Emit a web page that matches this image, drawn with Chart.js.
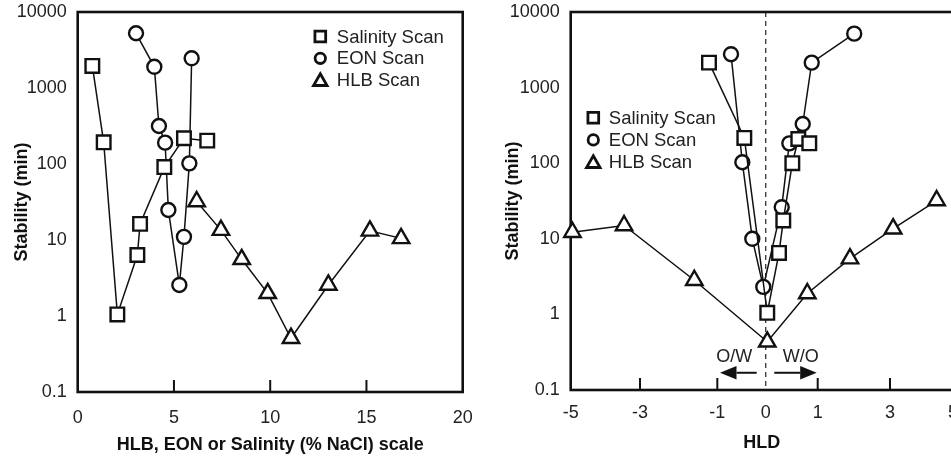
<!DOCTYPE html>
<html>
<head>
<meta charset="utf-8">
<script src="https://cdn.jsdelivr.net/npm/chart.js@4.4.1/dist/chart.umd.min.js"></script>
<style>
  html, body { margin: 0; padding: 0; background: #fff; }
  #wrap { position: relative; width: 951px; height: 456px; overflow: hidden; background: #fff; }
  canvas { position: absolute; top: 0; }
</style>
</head>
<body>
<div id="wrap">
  <canvas id="left" width="480" height="456" style="left:0"></canvas>
  <canvas id="right" width="500" height="456" style="left:480px"></canvas>
</div>
<script>
// axis ticks
const yTicks = [0.1, 1, 10, 100, 1000, 10000];
const yTickLabels = ['0.1', '1', '10', '100', '1000', '10000'];
const scaleTicks = [0, 5, 10, 15, 20];
const hldTicks = [-5, -3, -1, 0, 1, 3, 5];
const seriesNames = ['Salinity Scan', 'EON Scan', 'HLB Scan'];

// left panel: HLB, EON or salinity vs stability (min)
const salScale = [0.76, 1.35, 2.06, 3.10, 3.24, 4.50, 5.52, 6.73];
const salStab = [1950, 193, 1.05, 6.35, 16.3, 91, 218, 203];
const eonScale = [3.03, 3.98, 4.22, 4.54, 4.71, 5.28, 5.52, 5.80, 5.92];
const eonStab = [5250, 1900, 316, 191, 24.8, 2.56, 11.0, 102, 2460];
const hlbScale = [6.18, 7.44, 8.52, 9.87, 11.08, 13.02, 15.18, 16.8];
const hlbStab = [32.1, 13.5, 5.57, 1.99, 0.51, 2.56, 13.2, 10.5];

// right panel: HLD vs stability (min)
const salHLD = [-1.215, -0.442, 0.03, 0.256, 0.338, 0.512, 0.627, 0.838];
const salStabR = [2140, 216, 1.05, 6.5, 17.5, 100, 209, 183];
const eonHLD = [-0.717, -0.483, -0.277, -0.05, 0.308, 0.454, 0.712, 0.885, 2.01];
const eonStabR = [2767, 103, 10, 2.31, 26.2, 183, 330, 2140, 5170];
const hlbHLD = [-4.95, -3.46, -1.595, 0.03, 0.80, 1.893, 3.10, 4.48];
const hlbStabR = [12.2, 15.0, 2.83, 0.434, 1.89, 5.46, 13.6, 32.1];

// the HLD axis of the original is not evenly spaced: value -> fraction of axis
const hldKnots = [[-5, 0], [-3, 0.1813], [-1, 0.3835], [0, 0.5101], [1, 0.6461], [3, 0.8352], [5, 1]];

class WarpScale extends Chart.LinearScale {
  _warp(v) {
    const k = hldKnots;
    let i = 1;
    while (i < k.length - 1 && v > k[i][0]) i++;
    const [v0, f0] = k[i - 1], [v1, f1] = k[i];
    return f0 + (v - v0) / (v1 - v0) * (f1 - f0);
  }
  _unwarp(f) {
    const k = hldKnots;
    let i = 1;
    while (i < k.length - 1 && f > k[i][1]) i++;
    const [v0, f0] = k[i - 1], [v1, f1] = k[i];
    return v0 + (f - f0) / (f1 - f0) * (v1 - v0);
  }
  getPixelForValue(value) {
    if (value === null || value === undefined || isNaN(value)) return NaN;
    return this.getPixelForDecimal(this._warp(+value));
  }
  getValueForPixel(pixel) {
    return this._unwarp(this.getDecimalForPixel(pixel));
  }
}
WarpScale.id = 'warp';
WarpScale.defaults = Chart.LinearScale.defaults;
Chart.register(WarpScale);

const FONT = '"Liberation Sans", Arial, Helvetica, sans-serif';
const INK = '#111';

const markers = [
  { style: 'rect', radius: 9.6, legendRadius: 7.6 },
  { style: 'circle', radius: 7, legendRadius: 5.2 },
  { style: 'triangle', radius: 9.5, legendRadius: 7.8 }
];

function series(xs, ys, i) {
  return {
    label: seriesNames[i],
    data: xs.map((x, k) => ({ x: x, y: ys[k] })),
    borderColor: INK,
    borderWidth: 1.5,
    pointStyle: markers[i].style,
    pointRadius: markers[i].radius,
    pointBorderWidth: 2.4,
    pointBorderColor: INK,
    pointBackgroundColor: '#fff',
    tension: 0,
    fill: false,
    clip: false
  };
}

function drawMarker(ctx, style, r, x, y) {
  ctx.beginPath();
  if (style === 'rect') {
    const s = Math.SQRT1_2 * r;
    ctx.rect(x - s, y - s, 2 * s, 2 * s);
  } else if (style === 'circle') {
    ctx.arc(x, y, r, 0, Math.PI * 2);
  } else {
    for (let j = 0; j < 3; j++) {
      const a = j * 2 * Math.PI / 3;
      const px = x + Math.sin(a) * r, py = y - Math.cos(a) * r;
      j ? ctx.lineTo(px, py) : ctx.moveTo(px, py);
    }
    ctx.closePath();
  }
  ctx.fill();
  ctx.stroke();
}

// frame, inner tick marks, dashed zero line, arrows, legend
const decor = {
  id: 'decor',
  beforeDatasetsDraw(chart, args, o) {
    const { ctx, chartArea: a } = chart;
    const x = chart.scales.x, y = chart.scales.y;
    ctx.save();
    if (o.zeroLine) {
      const px = x.getPixelForValue(0);
      ctx.setLineDash([5, 4]);
      ctx.lineWidth = 1.3;
      ctx.strokeStyle = '#333';
      ctx.beginPath();
      ctx.moveTo(px, a.top);
      ctx.lineTo(px, a.bottom);
      ctx.stroke();
      ctx.setLineDash([]);
    }
    ctx.strokeStyle = INK;
    ctx.fillStyle = INK;
    ctx.lineWidth = 2;
    x.ticks.forEach(t => {
      if (t.value === x.min || t.value === x.max || (o.skipTicks || []).includes(t.value)) return;
      const px = x.getPixelForValue(t.value);
      ctx.beginPath();
      ctx.moveTo(px, a.bottom);
      ctx.lineTo(px, a.bottom - 12);
      ctx.stroke();
    });
    (o.arrows || []).forEach(ar => {
      const py = y.getPixelForValue(ar.y);
      const x0 = x.getPixelForValue(ar.from), x1 = x.getPixelForValue(ar.to);
      const dir = Math.sign(x1 - x0), head = 16.5, half = 6.7;
      ctx.lineWidth = 2;
      ctx.beginPath();
      ctx.moveTo(x0, py);
      ctx.lineTo(x1 - dir * head, py);
      ctx.stroke();
      ctx.beginPath();
      ctx.moveTo(x1, py);
      ctx.lineTo(x1 - dir * head, py - half);
      ctx.lineTo(x1 - dir * head, py + half);
      ctx.closePath();
      ctx.fill();
    });
    ctx.font = '18px ' + FONT;
    ctx.fillStyle = '#222';
    ctx.textAlign = 'center';
    ctx.textBaseline = 'middle';
    (o.notes || []).forEach(n => {
      ctx.fillText(n.text, x.getPixelForValue(n.x), y.getPixelForValue(n.y));
    });
    ctx.lineWidth = 2.6;
    ctx.strokeStyle = INK;
    ctx.strokeRect(a.left, a.top, a.right - a.left, a.bottom - a.top);
    ctx.restore();
  },
  afterDatasetsDraw(chart, args, o) {
    if (!o.legend) return;
    const { ctx, chartArea: a } = chart;
    const L = o.legend;
    ctx.save();
    ctx.font = '18.5px ' + FONT;
    ctx.textAlign = 'left';
    ctx.textBaseline = 'middle';
    chart.data.datasets.forEach((ds, i) => {
      const mx = a.left + L.dx, my = a.top + L.dy + i * L.gap;
      ctx.lineWidth = 2.8;
      ctx.strokeStyle = INK;
      ctx.fillStyle = '#fff';
      drawMarker(ctx, markers[i].style, markers[i].legendRadius, mx, my + (i === 2 ? 1.5 : 0));
      ctx.fillStyle = '#222';
      ctx.fillText(ds.label, mx + L.textGap, my + 1);
    });
    ctx.restore();
  }
};

function yAxis(width, titlePad) {
  return {
    type: 'logarithmic',
    min: 0.1,
    max: 10000,
    afterBuildTicks: s => { s.ticks = yTicks.map(v => ({ value: v })); },
    afterFit: s => { s.width = width; s.paddingTop = 0; s.paddingBottom = 0; },
    grid: { display: false, drawTicks: false },
    border: { display: false },
    ticks: {
      padding: 11,
      color: '#222',
      font: { family: FONT, size: 18 },
      callback: v => { const i = yTicks.indexOf(v); return i < 0 ? '' : yTickLabels[i]; }
    },
    title: {
      display: true,
      text: 'Stability (min)',
      color: INK,
      padding: { top: titlePad, bottom: 0 },
      font: { family: FONT, size: 18, weight: 'bold' }
    }
  };
}

function xAxis(type, min, max, ticks, title, height, tickPad, titlePad) {
  return {
    type: type,
    min: min,
    max: max,
    afterBuildTicks: s => { s.ticks = ticks.map(v => ({ value: v })); },
    afterFit: s => { s.height = height; s.paddingLeft = 0; s.paddingRight = 0; },
    grid: { display: false, drawTicks: false },
    border: { display: false },
    ticks: {
      padding: tickPad,
      color: '#222',
      maxRotation: 0,
      autoSkip: false,
      font: { family: FONT, size: 18 },
      callback: v => String(v)
    },
    title: {
      display: true,
      text: title,
      color: INK,
      padding: { top: 0, bottom: titlePad },
      font: { family: FONT, size: 18, weight: 'bold' }
    }
  };
}

new Chart(document.getElementById('left'), {
  type: 'line',
  data: {
    datasets: [
      series(salScale, salStab, 0),
      series(eonScale, eonStab, 1),
      series(hlbScale, hlbStab, 2)
    ]
  },
  options: {
    responsive: false,
    animation: false,
    events: [],
    layout: { padding: { top: 12, right: 17.3, bottom: 0, left: 0 } },
    scales: {
      x: xAxis('linear', 0, 20, scaleTicks, 'HLB, EON or Salinity (% NaCl) scale', 64, 15, 0.5),
      y: yAxis(77.7, 11.7)
    },
    plugins: {
      legend: { display: false },
      tooltip: { enabled: false },
      decor: { legend: { dx: 242.6, dy: 24.5, gap: 21.8, textGap: 16.5 } }
    }
  },
  plugins: [decor]
});

new Chart(document.getElementById('right'), {
  type: 'line',
  data: {
    datasets: [
      series(salHLD, salStabR, 0),
      series(eonHLD, eonStabR, 1),
      series(hlbHLD, hlbStabR, 2)
    ]
  },
  options: {
    responsive: false,
    animation: false,
    events: [],
    layout: { padding: { top: 11, right: 27, bottom: 0, left: 0 } },
    scales: {
      x: xAxis('warp', -5, 5, hldTicks, 'HLD', 66, 12.2, 2),
      y: yAxis(90.7, 22.5)
    },
    plugins: {
      legend: { display: false },
      tooltip: { enabled: false },
      decor: {
        zeroLine: true,
        skipTicks: [0],
        arrows: [
          { from: -0.186, to: -0.944, y: 0.169 },
          { from: 0.165, to: 0.98, y: 0.169 }
        ],
        notes: [
          { text: 'O/W', x: -0.651, y: 0.275 },
          { text: 'W/O', x: 0.675, y: 0.275 }
        ],
        legend: { dx: 22.6, dy: 105.7, gap: 22.2, textGap: 15.5 }
      }
    }
  },
  plugins: [decor]
});
</script>
</body>
</html>
